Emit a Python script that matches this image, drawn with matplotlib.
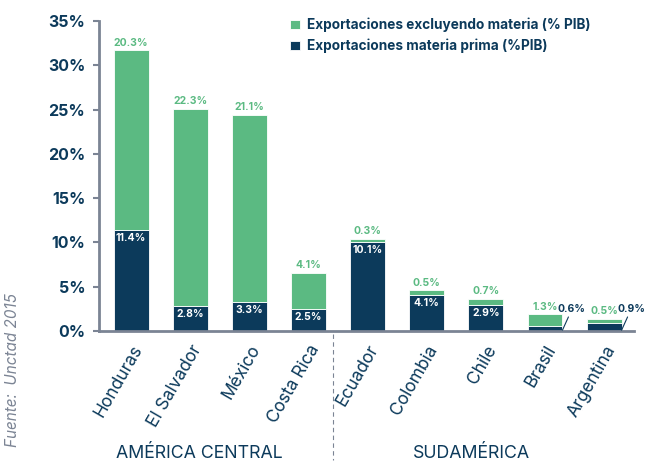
import numpy as np
import matplotlib.pyplot as plt

plt.rcParams['font.family'] = ['Inter', 'DejaVu Sans']

paises = ["Honduras", "El Salvador", "México", "Costa Rica", "Ecuador",
          "Colombia", "Chile", "Brasil", "Argentina"]
materia_prima = [11.4, 2.8, 3.3, 2.5, 10.1, 4.1, 2.9, 0.6, 0.9]
excluyendo = [20.3, 22.3, 21.1, 4.1, 0.3, 0.5, 0.7, 1.3, 0.5]
yticks = [0, 5, 10, 15, 20, 25, 30, 35]

navy = '#0c3a5b'
green = '#5bba82'
grey = '#7b8494'

fig = plt.figure(figsize=(6.48, 4.61), dpi=100)
ax = fig.add_axes([0.153, 0.282, 0.825, 0.672])

x = np.arange(len(paises))
w = 0.59
ax.bar(x, materia_prima, w, color=navy, edgecolor='white', linewidth=0.6,
       label='Exportaciones materia prima (%PIB)', zorder=2)
ax.bar(x, excluyendo, w, bottom=materia_prima, color=green, edgecolor='white',
       linewidth=0.6, label='Exportaciones excluyendo materia (% PIB)', zorder=2)

ax.set_xlim(-0.54, 8.5)
ax.set_ylim(0, 35)
ax.set_yticks(yticks)
ax.set_yticklabels([f"{v}%" for v in yticks], fontsize=11.5, fontweight='bold', color=navy)
ax.set_xticks(x)
ax.set_xticklabels(paises, rotation=60, ha='right', rotation_mode='anchor',
                   fontsize=12.5, color=navy)
ax.tick_params(axis='x', length=0, pad=8)
ax.tick_params(axis='y', length=4, width=1.5, color=grey, pad=6)
for s in ['top', 'right']:
    ax.spines[s].set_visible(False)
for s in ['left', 'bottom']:
    ax.spines[s].set_color(grey)
    ax.spines[s].set_linewidth(2)

# etiquetas
for i in range(len(paises)):
    tot = materia_prima[i] + excluyendo[i]
    ax.text(x[i], tot + 0.3, f"{excluyendo[i]}%", ha='center', va='bottom',
            fontsize=7.5, fontweight='bold', color=green)
    if i < 7:
        ax.text(x[i], materia_prima[i] - 0.35, f"{materia_prima[i]}%", ha='center',
                va='top', fontsize=7.5, fontweight='bold', color='white', zorder=3)
    else:
        ax.annotate(f"{materia_prima[i]}%", xy=(x[i] + w / 2, 0.1),
                    xytext=(x[i] + w / 2 + 0.16, 1.9), ha='center', va='bottom',
                    fontsize=7.5, fontweight='bold', color=navy,
                    arrowprops=dict(arrowstyle='-', color=navy, lw=0.8,
                                    shrinkA=0, shrinkB=0))

h, l = ax.get_legend_handles_labels()
ax.legend(h[::-1], l[::-1], loc='upper left', bbox_to_anchor=(0.335, 1.05),
          frameon=False, handlelength=0.7, handleheight=0.7, handletextpad=0.5,
          labelspacing=0.45, prop={'size': 9.8, 'weight': 'bold'},
          labelcolor=navy)

# separador y grupos
fig.add_artist(plt.Line2D([333 / 648, 333 / 648], [1 - 334 / 461, 1 - 460 / 461],
                          color=grey, lw=0.8, ls=(0, (4, 3))))
fig.text(199 / 648, 1 - 453 / 461, "AMÉRICA CENTRAL", ha='center', va='center',
         fontsize=12.8, color=navy)
fig.text(472 / 648, 1 - 453 / 461, "SUDAMÉRICA", ha='center', va='center',
         fontsize=12.8, color=navy)
fig.text(13 / 648, 1 - 370 / 461, "Fuente:  Unctad 2015", rotation=90,
         ha='center', va='center', fontsize=11, style='italic', color=grey)

fig.savefig('out.png', dpi=100)
